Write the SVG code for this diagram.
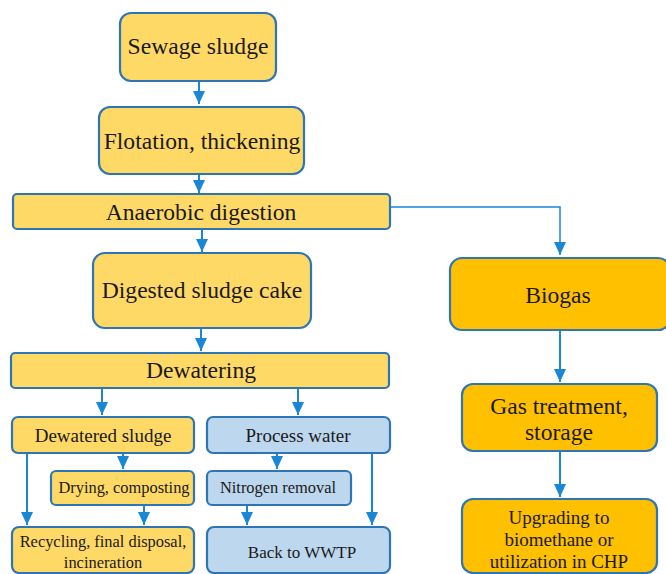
<svg xmlns="http://www.w3.org/2000/svg" width="666" height="574" viewBox="0 0 666 574">
<defs>
<style>
.y{fill:#FFD966;stroke:#2E75B6;stroke-width:2.2}
.o{fill:#FFC000;stroke:#2E75B6;stroke-width:2.2}
.b{fill:#BDD7EE;stroke:#2E75B6;stroke-width:2.2}
.lbl{fill:#1a1a1a;text-anchor:middle;font-family:"Liberation Serif","Times New Roman",Times,serif}
.t24{font-size:23.6px}
.t19{font-size:19px}
.t16{font-size:16.4px}
.c{fill:none;stroke:#1A86D6;stroke-width:2}
</style>
<marker id="ah" markerWidth="13" markerHeight="12" refX="13" refY="6" orient="auto" markerUnits="userSpaceOnUse" viewBox="0 0 13 12">
<path d="M0,0 L13,6 L0,12 Z" fill="#1A86D6"/>
</marker>
</defs>
<rect width="666" height="574" fill="#ffffff"/>
<g id="connectors">
<line class="c" x1="199" y1="82" x2="199" y2="104" marker-end="url(#ah)"/>
<line class="c" x1="199" y1="175" x2="199" y2="193" marker-end="url(#ah)"/>
<line class="c" x1="202" y1="230" x2="202" y2="252" marker-end="url(#ah)"/>
<line class="c" x1="201" y1="329" x2="201" y2="351" marker-end="url(#ah)"/>
<polyline class="c" points="391,207 560,207 560,255" marker-end="url(#ah)" style="stroke-width:1.5"/>
<line class="c" x1="102" y1="389" x2="102" y2="415" marker-end="url(#ah)"/>
<line class="c" x1="298" y1="389" x2="298" y2="415" marker-end="url(#ah)"/>
<line class="c" x1="123" y1="454" x2="123" y2="469" marker-end="url(#ah)"/>
<line class="c" x1="277" y1="454" x2="277" y2="469" marker-end="url(#ah)"/>
<line class="c" x1="27" y1="454" x2="27" y2="525" marker-end="url(#ah)"/>
<line class="c" x1="144" y1="506" x2="144" y2="525" marker-end="url(#ah)"/>
<line class="c" x1="247" y1="506" x2="247" y2="525" marker-end="url(#ah)"/>
<line class="c" x1="372" y1="454" x2="372" y2="525" marker-end="url(#ah)"/>
<line class="c" x1="560" y1="331" x2="560" y2="382" marker-end="url(#ah)"/>
<line class="c" x1="560" y1="452" x2="560" y2="497" marker-end="url(#ah)"/>
</g>
<g id="sewage">
<rect class="y" x="120" y="13" width="156" height="68" rx="11"/>
<text class="lbl t24" x="198" y="54">Sewage sludge</text>
</g>
<g id="flotation">
<rect class="y" x="99" y="107" width="205" height="67" rx="11"/>
<text class="lbl t24" x="202" y="149">Flotation, thickening</text>
</g>
<g id="anaerobic">
<rect class="y" x="13" y="194" width="377" height="35" rx="4"/>
<text class="lbl t24" x="201" y="220">Anaerobic digestion</text>
</g>
<g id="digested">
<rect class="y" x="93" y="253" width="218" height="75" rx="12"/>
<text class="lbl t24" x="202" y="298">Digested sludge cake</text>
</g>
<g id="dewatering">
<rect class="y" x="11" y="353" width="378" height="35" rx="4"/>
<text class="lbl t24" x="201" y="378">Dewatering</text>
</g>
<g id="dewatered">
<rect class="y" x="12" y="417" width="182" height="36" rx="6"/>
<text class="lbl t19" x="103" y="442">Dewatered sludge</text>
</g>
<g id="processwater">
<rect class="b" x="207" y="417" width="183" height="36" rx="6"/>
<text class="lbl t19" x="298" y="442">Process water</text>
</g>
<g id="drying">
<rect class="y" x="51" y="471" width="143" height="34" rx="5"/>
<text class="lbl t16" x="124" y="493">Drying, composting</text>
</g>
<g id="nitrogen">
<rect class="b" x="207" y="471" width="144" height="34" rx="5"/>
<text class="lbl t16" x="278" y="493">Nitrogen removal</text>
</g>
<g id="recycling">
<rect class="y" x="12" y="527" width="182" height="46" rx="7"/>
<text class="lbl t16" x="103" y="547">Recycling, final disposal,</text>
<text class="lbl t16" x="103" y="568">incineration</text>
</g>
<g id="back">
<rect class="b" x="207" y="527" width="183" height="46" rx="7"/>
<text class="lbl" x="302" y="558" font-size="17">Back to WWTP</text>
</g>
<g id="biogas">
<rect class="o" x="450" y="258" width="220" height="72" rx="12"/>
<text class="lbl t24" x="558" y="303">Biogas</text>
</g>
<g id="gastreatment">
<rect class="o" x="462" y="384" width="195" height="67" rx="11"/>
<text class="lbl t24" x="559" y="414">Gas treatment,</text>
<text class="lbl t24" x="559" y="440">storage</text>
</g>
<g id="upgrading">
<rect class="o" x="462" y="499" width="195" height="74" rx="11"/>
<text class="lbl t19" x="559" y="524">Upgrading to</text>
<text class="lbl t19" x="559" y="546">biomethane or</text>
<text class="lbl t19" x="559" y="568">utilization in CHP</text>
</g>
</svg>
